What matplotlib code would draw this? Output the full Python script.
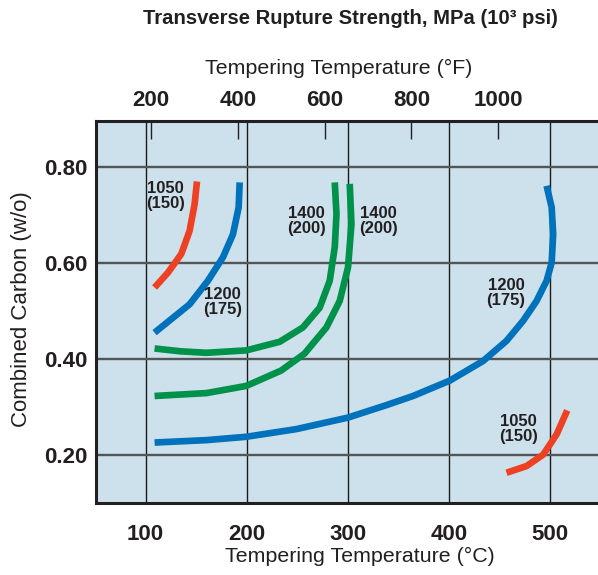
import numpy as np
import matplotlib
matplotlib.use("Agg")
import matplotlib.pyplot as plt

# ---------------------------------------------------------------
# data (x in deg C, y in combined carbon w/o)
# ---------------------------------------------------------------
red1_x = [108.9, 122.1, 135.3, 143.5, 148.5, 150.8]
red1_y = [0.549, 0.580, 0.619, 0.667, 0.723, 0.770]

blue1_x = [108.9, 143.5, 161.6, 176.5, 186.4, 192.0, 193.0]
blue1_y = [0.455, 0.514, 0.563, 0.612, 0.660, 0.716, 0.768]

green1_x = [108.9, 135.0, 160.1, 199.6, 232.6, 255.6, 272.1, 282.0, 287.0, 288.7, 287.0]
green1_y = [0.422, 0.416, 0.413, 0.418, 0.436, 0.466, 0.507, 0.563, 0.633, 0.702, 0.768]

green2_x = [108.9, 160.1, 199.6, 234.0, 257.0, 278.8, 291.9, 300.1, 303.5, 301.8]
green2_y = [0.323, 0.329, 0.344, 0.376, 0.411, 0.466, 0.521, 0.591, 0.681, 0.765]

blue2_x = [108.9, 160.1, 199.6, 249.1, 300.1, 338.1, 364.4, 400.7, 433.7,
           456.8, 473.3, 486.5, 496.4, 501.4, 502.9, 501.4, 496.4]
blue2_y = [0.226, 0.231, 0.238, 0.254, 0.278, 0.304, 0.323, 0.355, 0.396,
           0.438, 0.480, 0.521, 0.563, 0.601, 0.660, 0.716, 0.761]

red2_x = [456.8, 476.6, 493.1, 506.3, 516.8]
red2_y = [0.163, 0.177, 0.201, 0.243, 0.293]

# curve labels: (x, y, text)
labels = [
    (119.8, 0.740, "1050\n(150)"),
    (175.9, 0.518, "1200\n(175)"),
    (259.0, 0.687, "1400\n(200)"),
    (329.8, 0.687, "1400\n(200)"),
    (456.2, 0.537, "1200\n(175)"),
    (468.3, 0.254, "1050\n(150)"),
]

c_ticks = [100, 200, 300, 400, 500]
f_ticks = [200, 400, 600, 800, 1000]
y_ticks = [0.20, 0.40, 0.60, 0.80]

RED = "#ee4023"
BLUE = "#0071bb"
GREEN = "#00914a"
BG = "#cde1ec"
INK = "#231f20"

font = ["Liberation Sans", "DejaVu Sans"]

fig = plt.figure(figsize=(5.98, 5.75), dpi=100)
ax = fig.add_axes([96 / 598, 1 - 503 / 575, 1 - 96 / 598, (503 - 121) / 575])
ax.set_facecolor(BG)
ax.set_xlim(51.0, 547.2)
ax.set_ylim(0.10, 0.896)

# grid
for c in c_ticks:
    ax.axvline(c, color="#1a1a1a", lw=1.0, zorder=1)
for y in y_ticks:
    ax.axhline(y, color="#555555", lw=1.7, zorder=1)

for xs, ys, col in [(red1_x, red1_y, RED), (blue1_x, blue1_y, BLUE),
                    (green1_x, green1_y, GREEN), (green2_x, green2_y, GREEN),
                    (blue2_x, blue2_y, BLUE), (red2_x, red2_y, RED)]:
    ax.plot(xs, ys, color=col, lw=4.8, solid_capstyle="butt",
            solid_joinstyle="round", zorder=3)

for x, y, t in labels:
    ax.text(x, y, t, ha="center", va="center", fontsize=12, fontweight="bold",
            family=font, color=INK, linespacing=1.0, zorder=4)

for s in ["left", "bottom", "top"]:
    ax.spines[s].set_linewidth(2.2)
    ax.spines[s].set_color(INK)
ax.spines["right"].set_visible(False)

ax.set_xticks(c_ticks)
ax.set_xticklabels([str(c) for c in c_ticks])
ax.set_yticks(y_ticks)
ax.set_yticklabels(["%.2f" % y for y in y_ticks])
ax.tick_params(axis="both", length=0)
ax.tick_params(axis="x", pad=15)
ax.tick_params(axis="y", pad=6)
for lab in ax.get_xticklabels() + ax.get_yticklabels():
    lab.set_family(font)
    lab.set_fontweight("bold")
    lab.set_fontsize(16)
    lab.set_color(INK)

# top Fahrenheit axis (tick positions as drawn in the original figure)
c200, k = 105.6, 2.333
ax2 = ax.twiny()
ax2.set_xlim(200 + (51.0 - c200) * k, 200 + (547.2 - c200) * k)
ax2.set_xticks(f_ticks)
ax2.set_xticklabels([str(f) for f in f_ticks])
ax2.tick_params(axis="x", direction="in", length=13, width=1.0, color=INK, pad=7)
for lab in ax2.get_xticklabels():
    lab.set_family(font)
    lab.set_fontweight("bold")
    lab.set_fontsize(16)
    lab.set_color(INK)
for s in ax2.spines.values():
    s.set_visible(False)

fig.text(350 / 598, 1 - 19 / 575, "Transverse Rupture Strength, MPa (10³ psi)",
         ha="center", va="center", fontsize=14.6, fontweight="bold", family=font,
         color=INK)
fig.text(339 / 598, 1 - 68 / 575, "Tempering Temperature (°F)", ha="center",
         va="center", fontsize=15.4, family=font, color=INK)
fig.text(360 / 598, 1 - 556 / 575, "Tempering Temperature (°C)", ha="center",
         va="center", fontsize=15.4, family=font, color=INK)
fig.text(22 / 598, 1 - 309 / 575, "Combined Carbon (w/o)", ha="center",
         va="center", rotation=90, fontsize=16, family=font, color=INK)

fig.savefig("out.png", dpi=100)
